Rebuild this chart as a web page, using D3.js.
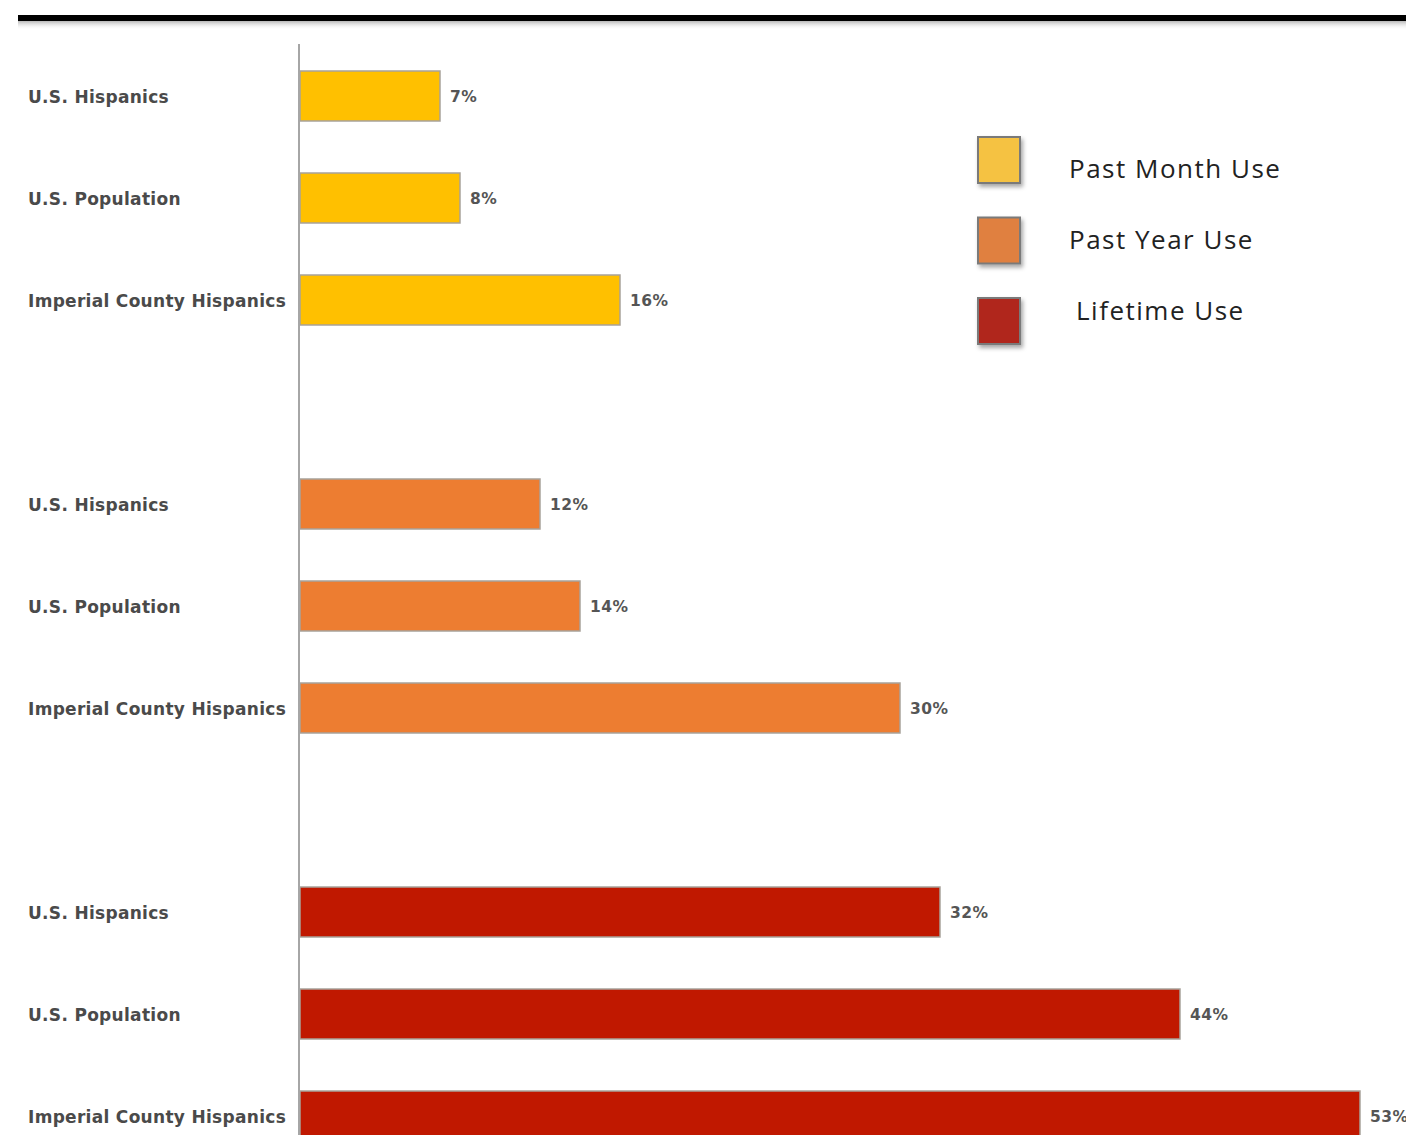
<!DOCTYPE html>
<html>
<head>
<meta charset="utf-8">
<script src="https://cdn.jsdelivr.net/npm/d3@7"></script>
<style>
  body { margin: 0; background: #fff; overflow: hidden; }
</style>
</head>
<body>
<div id="chart"></div>
<script>
const groups = ['Past Month Use', 'Past Year Use', 'Lifetime Use']
const categories = ['U.S. Hispanics', 'U.S. Population', 'Imperial County Hispanics']
const pastMonth = [7, 8, 16]
const pastYear = [12, 14, 30]
const lifetime = [32, 44, 53]
const barColors = ['#ffc000', '#ed7d31', '#c01800']
const legendColors = ['#f5c242', '#e0803f', '#b0261a']

const width = 1406
const height = 1135
const svg = d3.select('#chart').append('svg')
  .attr('width', width)
  .attr('height', height)

// shadow under the top rule
const defs = svg.append('defs')
const grad = defs.append('linearGradient')
  .attr('id', 'shade').attr('x1', 0).attr('x2', 0).attr('y1', 0).attr('y2', 1)
grad.append('stop').attr('offset', '0%').attr('stop-color', '#888').attr('stop-opacity', 0.6)
grad.append('stop').attr('offset', '100%').attr('stop-color', '#fff').attr('stop-opacity', 0)
const legShadow = defs.append('filter').attr('id', 'ls').attr('x', '-30%').attr('y', '-30%').attr('width', '170%').attr('height', '170%')
legShadow.append('feDropShadow').attr('dx', 2).attr('dy', 3).attr('stdDeviation', 2).attr('flood-color', '#000').attr('flood-opacity', 0.35)

svg.append('rect').attr('x', 18).attr('y', 21).attr('width', width - 18).attr('height', 9).attr('fill', 'url(#shade)')
svg.append('rect').attr('x', 18).attr('y', 15).attr('width', width - 18).attr('height', 6).attr('fill', '#000')

// rows: three categories per group, one empty slot between groups
const rows = []
const series = [pastMonth, pastYear, lifetime]
groups.forEach((g, gi) => {
  categories.forEach((c, ci) => {
    rows.push({ key: g + '|' + c, group: gi, category: c, value: series[gi][ci] })
  })
  if (gi < groups.length - 1) rows.push({ key: 'gap' + gi, gap: true })
})

const x = d3.scaleLinear().domain([0, 53]).range([300, 1360])
const y = d3.scalePoint().domain(rows.map(d => d.key)).range([96, 96 + 102 * (rows.length - 1)])
const barH = 50
const data = rows.filter(d => !d.gap)

// bars
svg.selectAll('.bar')
  .data(data)
  .enter()
  .append('rect')
  .classed('bar', true)
  .attr('x', x(0))
  .attr('y', d => y(d.key) - barH / 2)
  .attr('width', d => x(d.value) - x(0))
  .attr('height', barH)
  .attr('fill', d => barColors[d.group])
  .attr('stroke', '#a8a29a')
  .attr('stroke-width', 1.5)

// vertical axis line
svg.append('path')
  .attr('d', `M${x(0) - 1},44V${height}`)
  .attr('stroke', '#a6a6a6')
  .attr('stroke-width', 2)

// category labels
svg.selectAll('.cat')
  .data(data)
  .enter()
  .append('text')
  .classed('cat', true)
  .attr('x', 28)
  .attr('y', d => y(d.key) + 1)
  .attr('dy', '0.35em')
  .attr('fill', '#4a4a4a')
  .style('font-family', 'DejaVu Sans, sans-serif')
  .style('font-weight', 700)
  .style('font-size', '17px')
  .style('letter-spacing', '0.3px')
  .text(d => d.category)

// value labels
svg.selectAll('.val')
  .data(data)
  .enter()
  .append('text')
  .classed('val', true)
  .attr('x', d => x(d.value) + 10)
  .attr('y', d => y(d.key) + 1)
  .attr('dy', '0.35em')
  .attr('fill', '#555')
  .style('font-family', 'DejaVu Sans, sans-serif')
  .style('font-weight', 700)
  .style('font-size', '15.5px')
  .style('letter-spacing', '0.5px')
  .text(d => d.value + '%')

// legend
const legend = svg.append('g')
const legY = d3.scalePoint().domain(groups).range([160, 321])
const legText = d3.scalePoint().domain(groups).range([178, 320])
legend.selectAll('rect')
  .data(groups)
  .enter()
  .append('rect')
  .attr('x', 978)
  .attr('y', d => legY(d) - 23)
  .attr('width', 42)
  .attr('height', 46)
  .attr('fill', (d, i) => legendColors[i])
  .attr('stroke', '#7a7a7a')
  .attr('stroke-width', 2)
  .attr('filter', 'url(#ls)')
legend.selectAll('text')
  .data(groups)
  .enter()
  .append('text')
  .attr('x', (d, i) => i === 2 ? 1076 : 1069)
  .attr('y', d => legText(d))
  .attr('fill', '#222')
  .style('font-family', 'Open Sans, sans-serif')
  .style('font-size', '26px')
  .style('letter-spacing', '1.5px')
  .text(d => d)
</script>
</body>
</html>
